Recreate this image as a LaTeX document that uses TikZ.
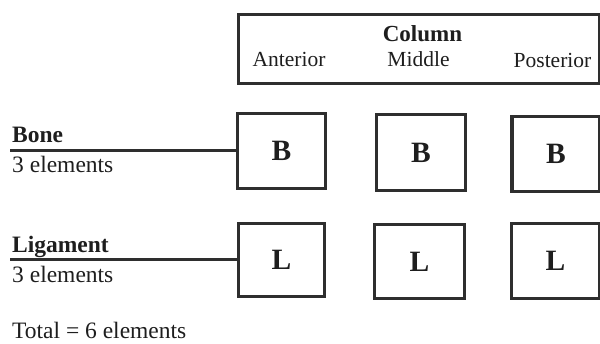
\documentclass[tikz,border=0pt]{standalone}
\usepackage{fontspec}
\setmainfont{Liberation Serif}
\definecolor{ink}{HTML}{1E1E1E}
\definecolor{rule}{HTML}{2E2E2E}
\begin{document}
\begin{tikzpicture}[x=1pt,y=-1pt,
  frame/.style={draw=rule, line width=3.4pt},
  cell/.style={frame, inner sep=0pt, text=ink, font=\fontsize{29.5}{30}\selectfont\bfseries},
  label/.style={anchor=base west, inner sep=0pt, text=ink, font=\fontsize{23.5}{24}\selectfont},
  head/.style={anchor=base, inner sep=0pt, text=ink, font=\fontsize{21.5}{22}\selectfont},
  link/.style={draw=rule, line width=3pt}]
\useasboundingbox (0,0) rectangle (600,344);
\fill[white] (0,0) rectangle (600,344);

% column header frame
\node[frame, minimum width=361pt, minimum height=69pt, inner sep=0pt] (col) at (419,49) {};
\node[head, font=\fontsize{23}{24}\selectfont\bfseries] (colt) at (422.5,42) {Column};
\node[head] (ant) at (289,67) {Anterior};
\node[head] (mid) at (418.5,67) {Middle};
\node[head] (pos) at (552.5,68) {Posterior};

% bone row
\node[cell, minimum width=88pt, minimum height=75pt] (b1) at (281.5,151) {B};
\node[cell, minimum width=89pt, minimum height=76pt] (b2) at (421,152.5) {B};
\node[cell, minimum width=88pt, minimum height=75pt] (b3) at (556,154) {B};

% ligament row
\node[cell, minimum width=86pt, minimum height=73pt] (l1) at (281.5,260) {L};
\node[cell, minimum width=90pt, minimum height=74pt] (l2) at (419.5,261.5) {L};
\node[cell, minimum width=88pt, minimum height=75pt] (l3) at (555.5,261) {L};

% row labels
\node[label, font=\fontsize{23.5}{24}\selectfont\bfseries] (bone) at (12,143) {Bone};
\node[label] (bonen) at (12,173) {3 elements};
\node[label, font=\fontsize{23.5}{24}\selectfont\bfseries] (lig) at (12,253) {Ligament};
\node[label] (lign) at (12,283) {3 elements};
\node[label] (total) at (12,339) {Total = 6 elements};

% leader lines into the first column
\coordinate (bs) at (10,151);
\coordinate (ls) at (10,260);
\draw[link] (bs) -- (b1.west);
\draw[link] (ls) -- (l1.west);
\end{tikzpicture}
\end{document}
